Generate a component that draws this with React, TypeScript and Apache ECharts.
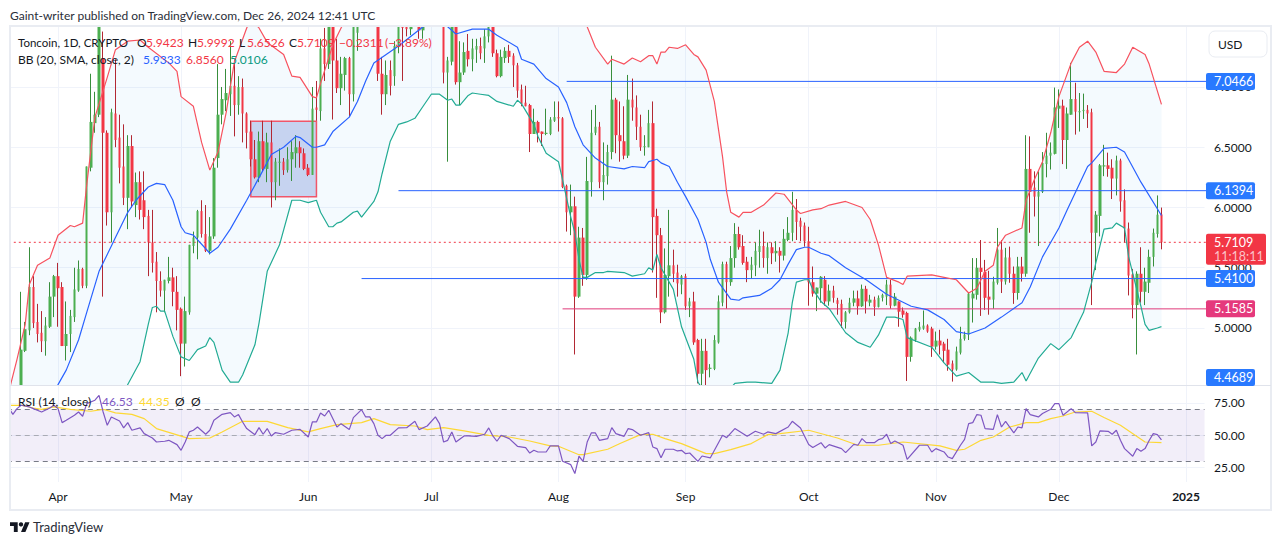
import React, { useEffect, useRef } from "react";
import * as echarts from "echarts";

// All candles are [open, high, low, close], one per day, starting 2024-03-21.
const candlesMar = [
[4.30,4.40,4.25,4.35],[4.35,4.45,4.30,4.42],[4.45,5.30,4.40,4.82],[4.81,5.05,4.80,4.99],[4.98,5.67,4.94,5.34],[5.34,5.43,5.00,5.04],[5.05,5.20,4.88,4.95],[4.96,5.14,4.80,4.89],[4.89,5.09,4.77,5.02],[5.01,5.38,5.00,5.26],[5.26,5.44,5.09,5.43],
];
const candlesApr = [
[5.43,5.54,5.01,5.33],[5.34,5.38,4.85,4.85],[4.85,5.22,4.73,4.95],[4.95,5.15,4.80,5.10],[5.09,5.50,5.05,5.32],[5.31,5.56,5.30,5.49],[5.49,5.50,5.33,5.35],[5.35,6.34,5.33,6.34],[6.33,7.11,6.30,6.71],[6.70,6.96,6.62,6.77],
[6.77,7.60,6.75,7.55],[7.24,7.46,5.26,6.62],[6.62,6.64,5.85,5.96],[5.96,6.82,5.71,6.79],[6.78,7.23,6.50,6.56],[6.58,6.77,6.20,6.33],[6.34,6.69,6.02,6.08],[6.08,6.60,5.82,6.51],[6.51,6.60,6.00,6.05],[6.02,6.29,5.92,6.21],
[6.21,6.30,5.90,5.98],[6.06,6.30,5.82,5.92],[5.93,5.98,5.43,5.71],[5.71,5.98,5.46,5.54],[5.55,5.63,5.13,5.39],[5.39,5.47,5.26,5.31],[5.31,5.40,5.13,5.40],[5.39,5.59,5.37,5.42],[5.42,5.50,5.18,5.30],[5.30,5.43,4.98,5.15],
];
const candlesMay = [
[5.16,5.17,4.60,4.87],[4.87,5.26,4.68,5.14],[5.13,5.69,5.11,5.69],[5.68,5.80,5.62,5.75],[5.75,5.98,5.57,5.97],[5.97,6.06,5.75,5.78],[5.78,6.02,5.63,5.64],[5.64,5.92,5.61,5.76],[5.76,6.41,5.74,6.33],[6.41,7.19,6.33,6.77],
[6.77,7.00,6.69,6.90],[6.89,7.15,6.80,6.95],[6.94,7.38,6.76,7.01],[7.01,7.23,6.59,6.85],[6.85,7.09,6.77,7.00],[7.00,7.07,6.54,6.78],[6.78,6.79,6.49,6.62],[6.63,6.72,6.34,6.40],[6.40,6.56,6.24,6.25],[6.25,6.63,6.21,6.55],
[6.55,6.72,6.30,6.32],[6.32,6.62,6.21,6.54],[6.54,6.72,6.00,6.21],[6.21,6.41,6.06,6.38],[6.37,6.49,6.18,6.38],[6.38,6.41,6.27,6.31],[6.31,6.50,6.29,6.40],[6.40,6.55,6.22,6.46],[6.45,6.60,6.33,6.50],[6.50,6.55,6.33,6.45],[6.45,6.49,6.31,6.32],
];
const candlesJun = [
[6.33,6.36,6.26,6.27],[6.27,7.00,6.27,6.82],[6.83,7.05,6.72,6.81],[6.80,7.40,6.72,7.32],[7.32,7.49,7.05,7.19],[7.19,7.60,7.15,7.55],[7.60,7.70,6.73,7.22],[7.22,7.40,6.95,6.99],[6.99,7.25,6.85,7.11],[7.10,7.25,6.97,7.24],
[7.24,7.25,6.75,6.94],[6.94,7.60,6.88,7.55],[7.45,7.70,7.30,7.60],[7.62,7.80,7.55,7.70],[7.70,7.85,7.60,7.80],[7.80,7.95,7.70,7.75],[7.75,7.90,7.62,7.70],[7.70,7.80,7.05,7.11],[7.11,7.25,6.77,6.94],[6.94,7.22,6.85,7.10],
[7.14,7.22,6.93,7.01],[7.09,7.38,7.01,7.34],[7.34,7.70,7.28,7.60],[7.55,7.70,7.05,7.49],[7.50,7.60,7.42,7.48],[7.48,7.60,7.43,7.52],[7.60,7.70,7.54,7.65],[7.52,7.60,7.40,7.47],[7.47,7.60,7.40,7.52],[7.52,7.70,7.52,7.60],
];
const candlesJul = [
[7.60,7.85,7.55,7.80],[7.80,7.95,7.65,7.70],[7.70,7.85,7.60,7.70],[7.70,7.80,7.03,7.12],[7.12,7.25,6.38,7.22],[7.21,7.70,7.18,7.62],[7.62,7.70,7.02,7.04],[7.04,7.38,6.85,7.12],[7.12,7.37,7.10,7.29],[7.30,7.44,7.17,7.23],
[7.23,7.40,7.13,7.32],[7.31,7.40,7.20,7.34],[7.34,7.41,7.23,7.28],[7.32,7.48,7.20,7.42],[7.42,7.60,7.37,7.55],[7.55,7.60,7.25,7.28],[7.28,7.31,7.08,7.09],[7.09,7.31,7.08,7.25],[7.24,7.33,7.20,7.30],[7.30,7.35,7.20,7.25],
[7.26,7.28,7.00,7.18],[7.18,7.20,6.91,6.97],[6.98,7.02,6.84,6.86],[6.87,7.01,6.84,6.84],[6.85,6.86,6.46,6.61],[6.61,6.82,6.61,6.71],[6.71,6.72,6.54,6.62],[6.63,6.63,6.51,6.61],[6.61,6.82,6.60,6.62],[6.61,6.75,6.60,6.73],[6.72,6.88,6.71,6.75],
];
const candlesAug = [
[6.75,6.88,6.63,6.74],[6.74,6.75,6.16,6.17],[6.18,6.19,5.80,5.96],[5.96,6.19,5.77,6.01],[6.01,6.09,4.78,5.26],[5.26,5.84,5.25,5.75],[5.75,5.83,5.35,5.44],[5.44,6.42,5.40,6.22],[6.21,6.81,6.09,6.62],[6.62,6.85,6.60,6.67],
[6.67,6.71,6.16,6.21],[6.21,6.54,6.06,6.27],[6.26,6.52,6.19,6.46],[6.46,7.26,6.40,6.895],[6.895,6.91,6.45,6.60],[6.60,6.88,6.38,6.55],[6.55,6.84,6.40,6.43],[6.43,7.10,6.41,6.895],[6.895,7.07,6.72,6.83],[6.83,6.93,6.56,6.67],
[6.67,6.77,6.47,6.50],[6.50,6.60,6.43,6.51],[6.50,6.81,6.50,6.70],[6.70,6.88,5.46,5.92],[5.93,5.99,5.25,5.77],[5.77,5.83,5.04,5.13],[5.13,5.66,5.12,5.44],[5.43,5.98,5.26,5.52],[5.52,5.65,5.38,5.45],[5.46,5.525,5.26,5.37],[5.36,5.44,5.28,5.43],
];
const candlesSep = [
[5.43,5.45,5.15,5.18],[5.18,5.25,5.09,5.22],[5.22,5.30,4.86,4.88],[4.90,4.91,4.54,4.62],[4.62,4.91,4.49,4.81],[4.81,4.91,4.49,4.65],[4.66,4.70,4.59,4.67],[4.66,4.94,4.65,4.90],[4.88,5.27,4.87,5.22],[5.21,5.55,5.18,5.53],
[5.53,5.55,5.16,5.38],[5.38,5.68,5.35,5.58],[5.58,5.87,5.50,5.78],[5.78,5.84,5.65,5.67],[5.68,5.77,5.525,5.54],[5.55,5.59,5.38,5.48],[5.48,5.59,5.41,5.525],[5.52,5.71,5.43,5.64],[5.63,5.815,5.50,5.68],[5.68,5.80,5.50,5.58],
[5.58,5.71,5.45,5.67],[5.67,5.71,5.53,5.62],[5.62,5.72,5.55,5.64],[5.64,5.67,5.46,5.60],[5.60,5.82,5.56,5.74],[5.73,5.92,5.72,5.79],[5.79,6.13,5.72,5.98],[5.98,6.07,5.73,5.88],[5.89,5.915,5.72,5.84],[5.85,5.875,5.675,5.72],
];
const candlesOct = [
[5.72,5.84,5.185,5.38],[5.38,5.51,5.26,5.285],[5.285,5.335,5.14,5.335],[5.33,5.43,5.21,5.425],[5.40,5.43,5.185,5.22],[5.22,5.36,5.185,5.31],[5.31,5.35,5.21,5.25],[5.23,5.25,5.11,5.20],[5.20,5.235,5.00,5.05],[5.05,5.14,4.995,5.13],
[5.13,5.25,5.12,5.21],[5.21,5.31,5.18,5.245],[5.245,5.31,5.11,5.18],[5.18,5.36,5.175,5.325],[5.325,5.35,5.12,5.22],[5.21,5.275,5.18,5.235],[5.235,5.26,5.10,5.175],[5.175,5.27,5.17,5.25],[5.25,5.285,5.22,5.275],[5.26,5.40,5.19,5.36],
[5.36,5.40,5.16,5.185],[5.185,5.29,5.18,5.26],[5.22,5.22,5.01,5.135],[5.145,5.17,5.085,5.11],[5.125,5.135,4.56,4.76],[4.76,4.93,4.72,4.92],[4.90,5.00,4.885,4.995],[4.985,5.05,4.97,5.01],[4.995,5.145,4.985,5.02],[5.02,5.03,4.96,4.97],[4.995,5.01,4.76,4.845],
];
const candlesNov = [
[4.845,4.97,4.82,4.895],[4.895,4.985,4.78,4.855],[4.87,4.885,4.71,4.81],[4.82,4.91,4.645,4.695],[4.705,4.73,4.555,4.655],[4.655,4.845,4.645,4.805],[4.795,5.01,4.78,4.91],[4.91,4.97,4.895,4.945],[4.945,5.29,4.90,5.285],[5.245,5.58,5.045,5.285],
[5.275,5.58,5.235,5.50],[5.50,5.73,5.10,5.465],[5.465,5.565,5.15,5.25],[5.26,5.475,5.11,5.235],[5.235,5.425,5.16,5.385],[5.375,5.83,5.36,5.65],[5.65,5.73,5.29,5.385],[5.385,5.665,5.36,5.585],[5.585,5.675,5.375,5.45],[5.45,5.51,5.20,5.29],
[5.29,5.59,5.235,5.51],[5.51,5.59,5.385,5.45],[5.45,6.60,5.425,6.32],[6.32,6.59,5.79,6.13],[6.165,6.30,5.925,6.09],[6.09,6.30,5.68,6.13],[6.13,6.46,6.12,6.37],[6.36,6.62,6.25,6.43],[6.43,6.54,6.315,6.455],[6.445,6.995,6.44,6.83],
];
const candlesDec = [
[6.82,6.98,6.66,6.845],[6.845,6.895,6.36,6.56],[6.56,6.83,6.32,6.78],[6.77,7.20,6.77,6.90],[6.90,7.035,6.605,6.795],[6.79,6.95,6.63,6.80],[6.80,6.945,6.735,6.81],[6.81,6.85,6.66,6.78],[6.79,6.82,5.19,5.79],[5.79,5.97,5.48,5.94],
[5.93,6.36,5.76,6.35],[6.34,6.52,6.26,6.35],[6.35,6.455,6.255,6.32],[6.33,6.40,6.07,6.24],[6.24,6.43,6.10,6.39],[6.39,6.405,5.965,6.05],[6.06,6.15,5.71,5.825],[5.825,5.875,5.27,5.435],[5.445,5.49,5.08,5.19],[5.19,5.47,4.78,5.45],
[5.45,5.67,5.21,5.30],[5.30,5.50,5.19,5.385],[5.375,5.65,5.29,5.59],[5.59,5.825,5.51,5.79],[5.78,6.10,5.75,5.94],[5.9423,5.9992,5.6526,5.7109],
];

// Bollinger readings: day number (0 = 2024-03-21) and value.
const upperDays = [-1,1,3,4,6,9,11,14,15,17,18,20,23,25,28,31,33,38,40,41,44,46,48,50,52,54,57,58,60,62,66,68,70,73,74,75,78,80,85,100,115,130,137,140,142,145,146,149,151,153,155,156,157,158,159,160,162,164,166,167,169,171,173,174,175,177,178,180,183,186,188,191,192,195,197,199,203,207,209,211,213,216,217,218,224,227,230,233,235,237,239,240,242,246,247,249,251,253,255,258,260,262,264,266,269,271,273,276,277,280];
const upperValues = [4.47,4.74,5.03,5.36,5.52,5.58,5.77,5.85,5.84,5.87,6.19,6.75,7.08,7.31,7.38,7.39,7.33,7.2,7.13,6.92,6.84,6.54,6.31,6.46,6.79,7.21,7.49,7.56,7.49,7.37,7.27,7.09,7.08,6.92,6.91,7.03,7.35,7.49,7.8,8.1,8.2,8.0,7.75,7.5,7.33,7.19,7.23,7.19,7.24,7.21,7.26,7.26,7.19,7.29,7.29,7.33,7.32,7.35,7.27,7.25,7.14,6.88,6.42,6.13,5.96,5.92,5.96,5.96,6.02,6.12,6.11,5.98,5.95,5.98,5.99,6.02,6.05,6.0,5.9,5.69,5.42,5.38,5.36,5.43,5.44,5.42,5.4,5.29,5.33,5.47,5.52,5.67,5.77,5.83,6.06,6.23,6.38,6.62,6.92,7.2,7.33,7.38,7.29,7.13,7.12,7.19,7.33,7.27,7.19,6.856];

const middleDays = [-1,5,11,13,16,18,21,23,25,28,30,33,35,37,39,41,42,44,48,50,53,57,61,63,66,69,70,73,74,76,78,82,84,86,88,94,100,103,106,108,112,116,118,123,124,127,130,133,135,137,139,142,145,149,151,154,155,157,158,160,162,164,167,169,170,172,175,177,178,182,185,187,189,191,193,194,197,199,203,208,213,216,219,223,227,230,233,237,241,246,248,251,255,257,262,263,266,269,271,275,280];
const middleValues = [4.0,4.25,4.53,4.65,4.9,5.13,5.47,5.61,5.75,5.96,6.06,6.17,6.2,6.19,6.06,5.84,5.79,5.77,5.62,5.67,5.82,6.06,6.31,6.44,6.5,6.59,6.58,6.5,6.5,6.52,6.63,6.75,6.88,7.05,7.2,7.34,7.5,7.53,7.5,7.44,7.48,7.48,7.43,7.33,7.23,7.19,7.07,7.0,6.87,6.67,6.52,6.41,6.34,6.32,6.34,6.33,6.38,6.4,6.37,6.34,6.21,6.09,5.9,5.71,5.57,5.38,5.24,5.23,5.25,5.27,5.33,5.4,5.53,5.65,5.67,5.67,5.62,5.6,5.5,5.4,5.28,5.23,5.18,5.15,5.07,4.97,4.95,5.0,5.09,5.21,5.34,5.59,5.83,5.98,6.34,6.37,6.49,6.5,6.46,6.21,5.9333];

const lowerDays = [-1,10,20,28,31,33,34,35,36,37,39,41,43,45,47,48,49,51,53,55,56,59,60,62,65,68,70,72,74,75,77,78,79,80,83,84,85,88,89,90,92,94,96,98,100,102,104,106,107,108,109,111,112,114,116,118,122,123,124,127,128,130,133,134,136,137,138,139,140,142,144,145,149,151,154,155,156,157,158,159,161,163,166,167,170,173,176,179,181,185,187,189,190,191,193,194,195,197,199,203,206,209,211,213,215,217,218,224,227,230,233,236,239,241,244,246,247,250,253,255,258,261,263,264,266,268,269,271,272,275,276,277,279,280];
const lowerValues = [3.5,3.7,4.0,4.53,4.72,5.03,5.17,5.18,5.14,5.14,4.93,4.76,4.73,4.82,4.85,4.92,4.88,4.65,4.55,4.55,4.61,4.86,5.04,5.47,5.69,6.06,6.06,6.04,6.06,5.96,5.84,5.84,5.87,5.88,5.96,5.97,5.92,6.05,6.13,6.28,6.55,6.69,6.71,6.74,6.84,6.94,6.94,6.89,6.9,6.85,6.85,6.93,6.95,6.94,6.93,6.88,6.84,6.89,6.86,6.69,6.59,6.45,6.38,6.23,5.92,5.79,5.57,5.42,5.42,5.46,5.46,5.47,5.46,5.43,5.45,5.5,5.48,5.61,5.5,5.44,5.32,5.01,4.74,4.55,4.4,4.42,4.54,4.55,4.55,4.54,4.65,4.96,5.21,5.38,5.4,5.4,5.32,5.22,5.16,4.96,4.88,4.84,4.94,5.09,5.09,5.07,4.92,4.84,4.71,4.6,4.63,4.55,4.55,4.54,4.55,4.63,4.56,4.75,4.87,4.82,4.92,5.13,5.38,5.54,5.82,5.83,5.87,5.83,5.59,5.18,5.03,4.98,5.0,5.0106];

const rsiDays = [-1,0,1,2,4,5,7,9,10,11,12,13,15,16,17,18,20,21,22,23,24,26,27,28,29,31,32,34,35,37,38,40,41,42,43,44,45,47,48,49,51,53,54,55,56,57,59,60,61,62,63,64,66,68,70,72,73,74,75,76,77,79,80,82,83,85,86,87,88,89,90,91,92,94,96,98,99,101,103,104,105,106,107,108,110,111,113,115,116,117,118,119,121,123,125,126,127,128,130,131,133,134,136,137,138,139,140,141,142,143,145,146,147,149,150,151,153,155,156,157,158,159,161,162,163,164,165,167,168,170,173,174,176,179,181,183,184,186,189,190,192,194,195,197,198,199,202,203,205,206,207,208,210,211,212,213,214,215,217,218,221,223,224,225,227,228,229,231,232,233,234,235,236,237,239,240,241,242,244,245,246,247,248,250,251,253,254,255,256,258,259,262,263,264,265,267,268,269,270,271,273,274,275,276,277,278,279,280];
const rsiValues = [71.1,66.2,70.6,73.2,71.9,70.6,68,71.1,73.2,70.6,59.8,61.6,65.5,68,64.7,74.5,77.1,80.9,68,57.7,64.2,61.1,55.7,59.8,53.9,55.7,51.3,47.9,44.8,45.4,46.1,42.8,38.4,44.8,52.6,53.9,56.4,50.8,53.9,61.6,66.2,67.5,64.2,66,60.3,55.2,50.5,55.9,50.8,55.2,49.5,52.1,50.8,53.9,54.6,48.7,60.3,60.3,67.3,64.9,69.3,56.4,59,54.4,63.7,69.8,64.2,64.2,59,50,47.4,50,50,55.7,55.9,60.8,54.4,57.2,64.2,59,44.8,46.1,52.6,44.8,49.5,49.5,49.2,50.8,55.7,49.5,45.4,50,47.4,41.5,40.5,36.3,38.4,37.1,37.1,41.8,41.8,29.9,27.3,20.4,33.8,29.9,44.8,51.8,51.8,46.1,47.4,55.9,51.3,49.2,55.2,54.4,50,52.1,41,39.7,32.7,39.2,39.2,37.9,38.4,35.8,36.3,29.9,34,32.5,50,48.2,55.2,49.2,53.1,50.8,52.6,51.3,56.4,60.8,55.7,42.8,40.5,44.3,40.2,42.8,39.7,36.6,43,42.3,47.4,44.3,44.3,46.6,47.4,50.8,43.6,45.6,42.3,31.4,42.3,42.3,37.1,39.7,37.1,33.2,32,42.3,46.9,59,59.8,66,65.5,55.2,54.6,66,56.4,60.8,51.8,56.4,55.7,70.6,66,64.2,66.8,70.1,74.5,74.5,65.5,70.6,67.5,67.3,41.8,44.8,53.4,53.1,50.8,53.9,46.1,39.7,33.8,39.7,37.6,39.7,46,51.3,50.5,46.53];

const rsiMaDays = [-1,2,5,7,10,14,19,22,25,29,32,35,39,43,48,51,56,62,67,72,75,79,85,88,92,98,101,105,110,116,121,126,131,133,138,139,145,148,153,156,159,163,169,171,175,180,184,187,194,201,206,211,217,226,230,232,236,239,243,247,250,253,256,259,263,266,270,276,280];
const rsiMaValues = [73.2,73.2,71.1,70.1,71.9,70.1,68.6,70.1,67.3,66.2,62.9,55.2,51.3,47.4,47.9,52.6,60.8,60.8,55.9,52.6,55.2,58.2,59.8,62.9,58.2,57.2,54.4,55.9,53.4,50,48.7,45.6,41.8,41.5,35,35,39.2,43.6,50.5,50.8,47.4,43.6,35.8,35.8,38.9,43.6,50.5,51.3,53.9,47.9,42.3,42.3,44.8,41.8,38.4,39.2,46.1,48.7,56.4,59.8,59.8,62.9,64.9,68,68.6,63.7,57.7,44.8,44.35];

const priceTicks = [5, 5.5, 6, 6.5, 7];
const rsiTicks = [25, 50, 75];
const monthTicks: Record<string, string> = {
  "2024-04-01": "Apr", "2024-05-01": "May", "2024-06-01": "Jun", "2024-07-01": "Jul", "2024-08-01": "Aug",
  "2024-09-01": "Sep", "2024-10-01": "Oct", "2024-11-01": "Nov", "2024-12-01": "Dec", "2025-01-01": "2025",
};
const levelPrices = [7.0466, 6.1394, 5.41, 5.1585];
const levelStartDays = [135, 94, 85, 134];
const levelColors = ["#2962ff", "#2962ff", "#2962ff", "#e03a7a"];
const lastPrice = 5.7109;
const flagPrices = [7.0466, 6.1394, 5.41, 5.1585, 4.4689];
const flagColors = ["#2979ff", "#2979ff", "#2979ff", "#e5397c", "#2979ff"];
const boxDays = [58, 74];
const boxPrices = [6.715, 6.09];
const priceMin = 4.5266;
const priceMax = 7.4979;

const FONT = "Lato, 'Noto Sans', sans-serif";
const DARK = "#131722";
const GRID = "#f0f3fa";
const GREEN = "#4caf50";
const RED = "#f23645";
const DAY_WIDTH = 4.102;
const OFFSET = 1; // category 0 is 2024-03-20, so the indicators reach the left edge
const CATEGORY_COUNT = 292;

const categories: any[] = [];
for (let i = 0; i < CATEGORY_COUNT; i++) {
  const s = new Date(Date.UTC(2024, 2, 20 + i)).toISOString().slice(0, 10);
  categories.push(s === "2025-01-01" ? { value: s, textStyle: { fontWeight: "bold" } } : s);
}
const pts = (days: number[], vals: number[]) => days.map((d, i) => [d + OFFSET, vals[i]]);
const candles = [...candlesMar, ...candlesApr, ...candlesMay, ...candlesJun, ...candlesJul, ...candlesAug, ...candlesSep, ...candlesOct, ...candlesNov, ...candlesDec];
// The library only drops candles that lie wholly outside the pane, so the rest are cut at its edges here.
const cut = (v: number) => Math.min(priceMax, Math.max(priceMin, v));
const outside = (lo: number, hi: number) => lo >= priceMax || hi <= priceMin;

const txt = (x: number, y: number, text: string, fill: string, size = 12, extra: any = {}) => ({
  type: "text", x, y, z: 110, silent: true,
  style: { text, fill, font: `${extra.weight || "normal"} ${size}px ${FONT}`, textVerticalAlign: "middle", textAlign: extra.align || "left" },
});

export default function App() {
  const ref = useRef<HTMLDivElement>(null);
  useEffect(() => {
    const chart = echarts.init(ref.current!, undefined, { renderer: "svg" });
    const isTick = (_: number, v: string) => !!monthTicks[v];
    const lineBase = { type: "line", symbol: "none", showSymbol: false, silent: true, clip: true, animation: false };
    const option: any = {
      animation: false,
      backgroundColor: "#ffffff",
      grid: [
        { left: 6.75, top: 27, width: DAY_WIDTH * CATEGORY_COUNT, height: 358 },
        { left: 6.75, top: 386, width: DAY_WIDTH * CATEGORY_COUNT, height: 96 },
      ],
      xAxis: [0, 1].map((g) => ({
        type: "category", gridIndex: g, data: categories, boundaryGap: true,
        axisLine: { show: false }, axisTick: { show: false },
        splitLine: { show: true, alignWithLabel: true, interval: isTick, lineStyle: { color: GRID, width: 1 } },
        axisLabel: g === 0 ? { show: false } : {
          show: true, interval: isTick, margin: 8, color: DARK, fontFamily: FONT, fontSize: 12,
          formatter: (v: string) => monthTicks[v] || "",
        },
      })),
      yAxis: [
        {
          type: "value", gridIndex: 0, position: "right", min: priceMin, max: priceMax, scale: true,
          axisLine: { show: false },
          axisTick: { show: false, customValues: priceTicks },
          splitLine: { show: true, lineStyle: { color: GRID, width: 1 } },
          axisLabel: { customValues: priceTicks, margin: 9.5, color: DARK, fontFamily: FONT, fontSize: 12, formatter: (v: number) => v.toFixed(4) },
        },
        {
          type: "value", gridIndex: 1, position: "right", min: 13.9, max: 88.1, scale: true,
          axisLine: { show: false },
          axisTick: { show: false, customValues: rsiTicks },
          splitLine: { show: true, lineStyle: { color: GRID, width: 1 } },
          axisLabel: { customValues: rsiTicks, margin: 9.5, color: DARK, fontFamily: FONT, fontSize: 12, formatter: (v: number) => v.toFixed(2) },
        },
      ],
      series: [
        {
          type: "custom", name: "BB fill", xAxisIndex: 0, yAxisIndex: 0, z: 0, silent: true, clip: true,
          data: [[0, 6]],
          renderItem: (_p: any, api: any) => {
            const up = pts(upperDays, upperValues).map((p) => api.coord(p));
            const lo = pts(lowerDays, lowerValues).map((p) => api.coord(p)).reverse();
            return { type: "polygon", shape: { points: [...up, ...lo] }, style: { fill: "rgba(33,150,243,0.05)" } };
          },
        },
        {
          ...lineBase, name: "Last price", xAxisIndex: 0, yAxisIndex: 0, z: 2,
          data: [[0, lastPrice], [CATEGORY_COUNT, lastPrice]],
          lineStyle: { color: RED, width: 1, type: [2, 3] },
          markArea: {
            silent: true, z: 1,
            itemStyle: { color: "#c6d3f0", borderColor: "#f0566a", borderWidth: 1.5 },
            label: { show: false },
            data: [[{ xAxis: boxDays[0] + OFFSET, yAxis: boxPrices[0] }, { xAxis: boxDays[1] + OFFSET, yAxis: boxPrices[1] }]],
          },
        },
        ...levelPrices.map((p, i) => ({
          ...lineBase, name: "Level " + p, xAxisIndex: 0, yAxisIndex: 0, z: 4,
          data: [[levelStartDays[i] + OFFSET, p], [CATEGORY_COUNT, p]],
          lineStyle: { color: levelColors[i], width: 1 },
        })),
        {
          type: "candlestick", name: "Wicks", xAxisIndex: 0, yAxisIndex: 0, z: 3, barWidth: 1, silent: true, clip: true,
          data: ["-", ...candles.map(([o, h, l, c]) => (outside(l, h) ? "-" : [cut(o), cut(c), cut(l), cut(h)]))],
          itemStyle: { color: "#388e3c", color0: "#b22833", borderColor: "#388e3c", borderColor0: "#b22833", borderWidth: 1 },
        },
        {
          type: "candlestick", name: "Bodies", xAxisIndex: 0, yAxisIndex: 0, z: 3, barWidth: 3, silent: true, clip: true,
          data: ["-", ...candles.map(([o, _h, _l, c]) => {
            const lo = Math.min(o, c), hi = Math.max(o, c);
            return outside(lo, hi) ? "-" : [cut(o), cut(c), cut(lo), cut(hi)];
          })],
          itemStyle: { color: GREEN, color0: RED, borderColor: GREEN, borderColor0: RED, borderWidth: 0 },
        },
        { ...lineBase, name: "BB upper", xAxisIndex: 0, yAxisIndex: 0, z: 4, data: pts(upperDays, upperValues), lineStyle: { color: "#f7525f", width: 1.2 } },
        { ...lineBase, name: "BB basis", xAxisIndex: 0, yAxisIndex: 0, z: 4, data: pts(middleDays, middleValues), lineStyle: { color: "#2962ff", width: 1.2 } },
        { ...lineBase, name: "BB lower", xAxisIndex: 0, yAxisIndex: 0, z: 4, data: pts(lowerDays, lowerValues), lineStyle: { color: "#22ab94", width: 1.2 } },
        {
          ...lineBase, name: "RSI", xAxisIndex: 1, yAxisIndex: 1, z: 4, data: pts(rsiDays, rsiValues),
          lineStyle: { color: "#7e57c2", width: 1.2 },
          markArea: { silent: true, z: 1, itemStyle: { color: "rgba(126,87,194,0.1)" }, data: [[{ yAxis: 30 }, { yAxis: 70 }]] },
          markLine: {
            silent: true, symbol: "none", label: { show: false }, z: 2,
            data: [
              { yAxis: 70, lineStyle: { color: "#787b86", type: [5, 4], width: 1 } },
              { yAxis: 50, lineStyle: { color: "#a9abb4", type: [5, 4], width: 1 } },
              { yAxis: 30, lineStyle: { color: "#787b86", type: [5, 4], width: 1 } },
            ],
          },
        },
        { ...lineBase, name: "RSI MA", xAxisIndex: 1, yAxisIndex: 1, z: 3, data: pts(rsiMaDays, rsiMaValues), lineStyle: { color: "#fdd835", width: 1.2 } },
      ],
    };
    chart.setOption(option);

    const paneBottom = 377.5;
    const flags: any[] = [];
    flagPrices.forEach((p, i) => {
      const py = Math.min(chart.convertToPixel({ yAxisIndex: 0 }, p) as number, paneBottom);
      flags.push({ type: "rect", z: 105, silent: true, shape: { x: 1206, y: py - 8.5, width: 49, height: 17, r: 2 }, style: { fill: flagColors[i] } });
      flags.push(txt(1214, py, p.toFixed(4), "#ffffff", 12.5));
    });
    const lastY = chart.convertToPixel({ yAxisIndex: 0 }, lastPrice) as number;
    flags.push({ type: "rect", z: 105, silent: true, shape: { x: 1206, y: lastY - 8.5, width: 60, height: 31, r: 2 }, style: { fill: RED } });
    flags.push(txt(1214, lastY, lastPrice.toFixed(4), "#ffffff", 12.5));
    flags.push(txt(1214, lastY + 14, "11:18:11", "#fbc3c9", 12.5));

    chart.setOption({
      graphic: [
        { type: "rect", z: 100, silent: true, shape: { x: 0, y: 26, width: 10, height: 486 }, style: { fill: "#ffffff" } },
        { type: "rect", z: 101, silent: true, shape: { x: 10, y: 26, width: 1261, height: 484 }, style: { fill: "none", stroke: "#e9ecf2", lineWidth: 2 } },
        { type: "rect", z: 101, silent: true, shape: { x: 10, y: 385, width: 1261, height: 1 }, style: { fill: "#e0e3eb" } },
        txt(10, 15, "Gaint-writer published on TradingView.com, Dec 26, 2024 12:41 UTC", "#2a2e39", 12),
        txt(18, 42, "Toncoin, 1D, CRYPTO", DARK, 11.5),
        txt(137, 42, "O", DARK), txt(146, 42, "5.9423", RED),
        txt(188, 42, "H", DARK), txt(197, 42, "5.9992", RED),
        txt(239, 42, "L", DARK), txt(247, 42, "5.6526", RED),
        txt(289, 42, "C", DARK), txt(297, 42, "5.7109", RED),
        txt(339, 42, "−0.2311", RED), txt(385, 42, "(−3.89%)", RED),
        txt(18, 59, "BB (20, SMA, close, 2)", DARK),
        txt(143, 59, "5.9333", "#2962ff"), txt(186, 59, "6.8560", RED), txt(230, 59, "5.0106", "#089981"),
        txt(18, 401, "RSI (14, close)", DARK),
        txt(102, 401, "46.53", "#7e57c2"), txt(139, 401, "44.35", "#fdd835"),
        txt(175, 401, "Ø", DARK), txt(191, 401, "Ø", DARK),
        { type: "rect", z: 105, silent: true, shape: { x: 1209, y: 31, width: 58, height: 26, r: 6 }, style: { fill: "#ffffff", stroke: "#e9ecf2", lineWidth: 1 } },
        txt(1218, 44, "USD", DARK, 12),
        ...flags,
        {
          type: "group", x: 10, y: 520, scaleX: 0.55, scaleY: 0.55, z: 110, silent: true,
          children: [
            { type: "polygon", shape: { points: [[0, 4], [14, 4], [14, 22], [7, 22], [7, 11], [0, 11]] }, style: { fill: DARK } },
            { type: "circle", shape: { cx: 20, cy: 8, r: 4 }, style: { fill: DARK } },
            { type: "polygon", shape: { points: [[27.5, 4], [35.5, 4], [28, 22], [20, 22]] }, style: { fill: DARK } },
          ],
        },
        txt(33, 527, "TradingView", "#2a2e39", 13),
      ],
    });
    return () => chart.dispose();
  }, []);
  return <div ref={ref} style={{ position: "fixed", left: 0, top: 0, width: 1281, height: 545 }} />;
}
